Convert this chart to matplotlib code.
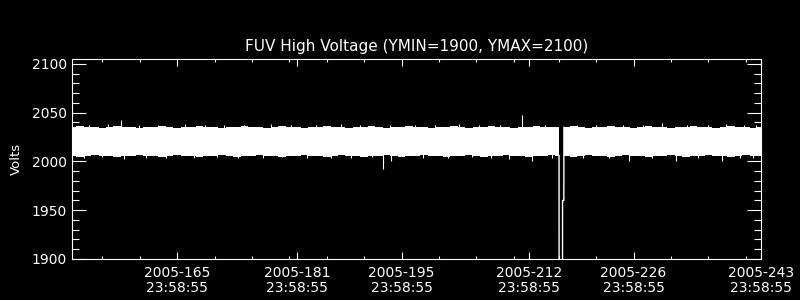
import matplotlib
matplotlib.use('Agg')
import matplotlib.pyplot as plt

plt.rcParams['font.family'] = 'DejaVu Sans'

# day of year 2005 (at 23:58:55), band envelope
seg1_days = list(range(151, 216)) + [216.04]
seg1_top = [2035, 2036, 2035, 2035, 2034, 2035, 2036, 2035, 2035, 2034,
            2035, 2035, 2036, 2035, 2034, 2035, 2035, 2036, 2035, 2035,
            2034, 2035, 2035, 2036, 2035, 2035, 2034, 2035, 2036, 2035,
            2035, 2034, 2035, 2035, 2036, 2035, 2035, 2034, 2035, 2035,
            2036, 2035, 2034, 2035, 2035, 2036, 2035, 2035, 2034, 2035,
            2035, 2036, 2035, 2034, 2035, 2035, 2036, 2035, 2035, 2034,
            2035, 2035, 2036, 2035, 2035, 2035]
seg1_bot = [2006, 2005, 2006, 2007, 2006, 2006, 2005, 2006, 2006, 2007,
            2006, 2006, 2005, 2006, 2007, 2006, 2006, 2005, 2006, 2006,
            2007, 2006, 2005, 2006, 2006, 2007, 2006, 2006, 2005, 2006,
            2006, 2007, 2006, 2006, 2005, 2006, 2007, 2006, 2006, 2005,
            2006, 2006, 2007, 2006, 2005, 2006, 2006, 2007, 2006, 2006,
            2005, 2006, 2006, 2007, 2006, 2005, 2006, 2006, 2007, 2006,
            2006, 2005, 2006, 2006, 2007, 2006]

seg2_days = [216.7] + list(range(217, 244))
seg2_top = [2035, 2035, 2036, 2035, 2034, 2035, 2035, 2036, 2035, 2035,
            2034, 2035, 2036, 2035, 2035, 2034, 2035, 2035, 2036, 2035,
            2035, 2034, 2035, 2036, 2035, 2035, 2034, 2035]
seg2_bot = [2006, 2006, 2005, 2006, 2007, 2006, 2006, 2005, 2006, 2007,
            2006, 2006, 2005, 2006, 2006, 2007, 2006, 2005, 2006, 2006,
            2007, 2006, 2006, 2005, 2006, 2007, 2006, 2006]

# the dropout around day 216
drop_days = [216.04, 216.05, 216.50, 216.51, 216.68, 216.69]
drop_volts = [2006, 1850, 1850, 1960, 1960, 2035]

# spikes above / below the band
up_days = [153.2, 155.8, 157.5, 159.9, 162.4, 166.1, 168.7, 171.3, 174.0, 177.6,
           180.2, 183.5, 186.9, 189.4, 193.4, 196.8, 199.5, 202.7, 205.3, 208.1,
           211.1, 214.2, 218.4, 221.0, 224.6, 227.3, 229.8, 233.1, 235.9, 238.4,
           240.7, 242.3]
up_volts = [2037, 2038, 2042.5, 2037, 2037.5, 2038, 2037, 2037.5, 2037, 2038,
            2037, 2037.5, 2038, 2037, 2037.8, 2037, 2037.5, 2038, 2037, 2037.5,
            2047.7, 2037, 2037.4, 2037, 2037.5, 2037, 2039.8, 2037, 2037.5, 2038,
            2037, 2037.5]
down_days = [152.6, 154.9, 157.9, 160.8, 163.5, 167.2, 170.4, 173.1, 176.5, 179.0,
             182.3, 185.6, 188.2, 191.0, 192.5, 193.6, 197.9, 201.2, 204.4, 207.0,
             209.3, 212.4, 215.1, 219.3, 222.7, 225.4, 228.5, 231.7, 234.6, 237.8,
             240.2, 242.0]
down_volts = [2004, 2004.5, 2002.6, 2004, 2003.5, 2004, 2004.5, 2003.5, 2004, 2004.5,
              2004, 2003.5, 2004, 2004.5, 1992.3, 2000.8, 2004, 2003.5, 2004.5, 2004,
              2002.6, 2000.8, 2004, 2004, 2003.5, 2000.5, 2004, 2000.5, 2004, 2000.5,
              2003.5, 2004]

major_days = [165, 181, 195, 212, 226, 243]
major_labels = ['2005-%d\n23:58:55' % d for d in major_days]
minor_days = [155, 160, 170, 175, 180, 185, 190, 200, 205, 210, 216, 221, 231, 236, 241]

fig = plt.figure(figsize=(8, 3), dpi=100, facecolor='black')
ax = fig.add_axes([0.0904, 0.1367, 0.8606, 0.6666], facecolor='black')

ax.fill_between(seg1_days, seg1_bot, seg1_top, step='mid', color='white', lw=0)
ax.fill_between(seg2_days, seg2_bot, seg2_top, step='mid', color='white', lw=0)
ax.plot(drop_days, drop_volts, color='white', lw=1.0)
ax.vlines(up_days, 2030, up_volts, color='white', lw=0.8)
ax.vlines(down_days, down_volts, 2010, color='white', lw=0.8)

ax.set_xlim(151, 243)
ax.set_ylim(1900, 2105)
ax.set_xticks(major_days)
ax.set_xticklabels(major_labels, linespacing=1.1)
ax.set_xticks(minor_days, minor=True)
ax.set_yticks([1900, 1950, 2000, 2050, 2100])
ax.set_yticks(list(range(1900, 2101, 10)), minor=True)

for s in ax.spines.values():
    s.set_color('white')
    s.set_linewidth(0.8)
ax.tick_params(which='both', direction='in', colors='white', width=0.8,
               top=True, right=True, labelsize=10)
ax.tick_params(axis='y', which='major', length=10, pad=4)
ax.tick_params(axis='y', which='minor', length=5)
ax.tick_params(axis='x', which='major', length=5, pad=5)
ax.tick_params(axis='x', which='minor', length=2.5)

ax.set_title('FUV High Voltage (YMIN=1900, YMAX=2100)', color='white', fontsize=11, pad=6)
ax.set_ylabel('Volts', color='white', fontsize=9.5, labelpad=6)

fig.savefig('out.png', dpi=100, facecolor='black')
